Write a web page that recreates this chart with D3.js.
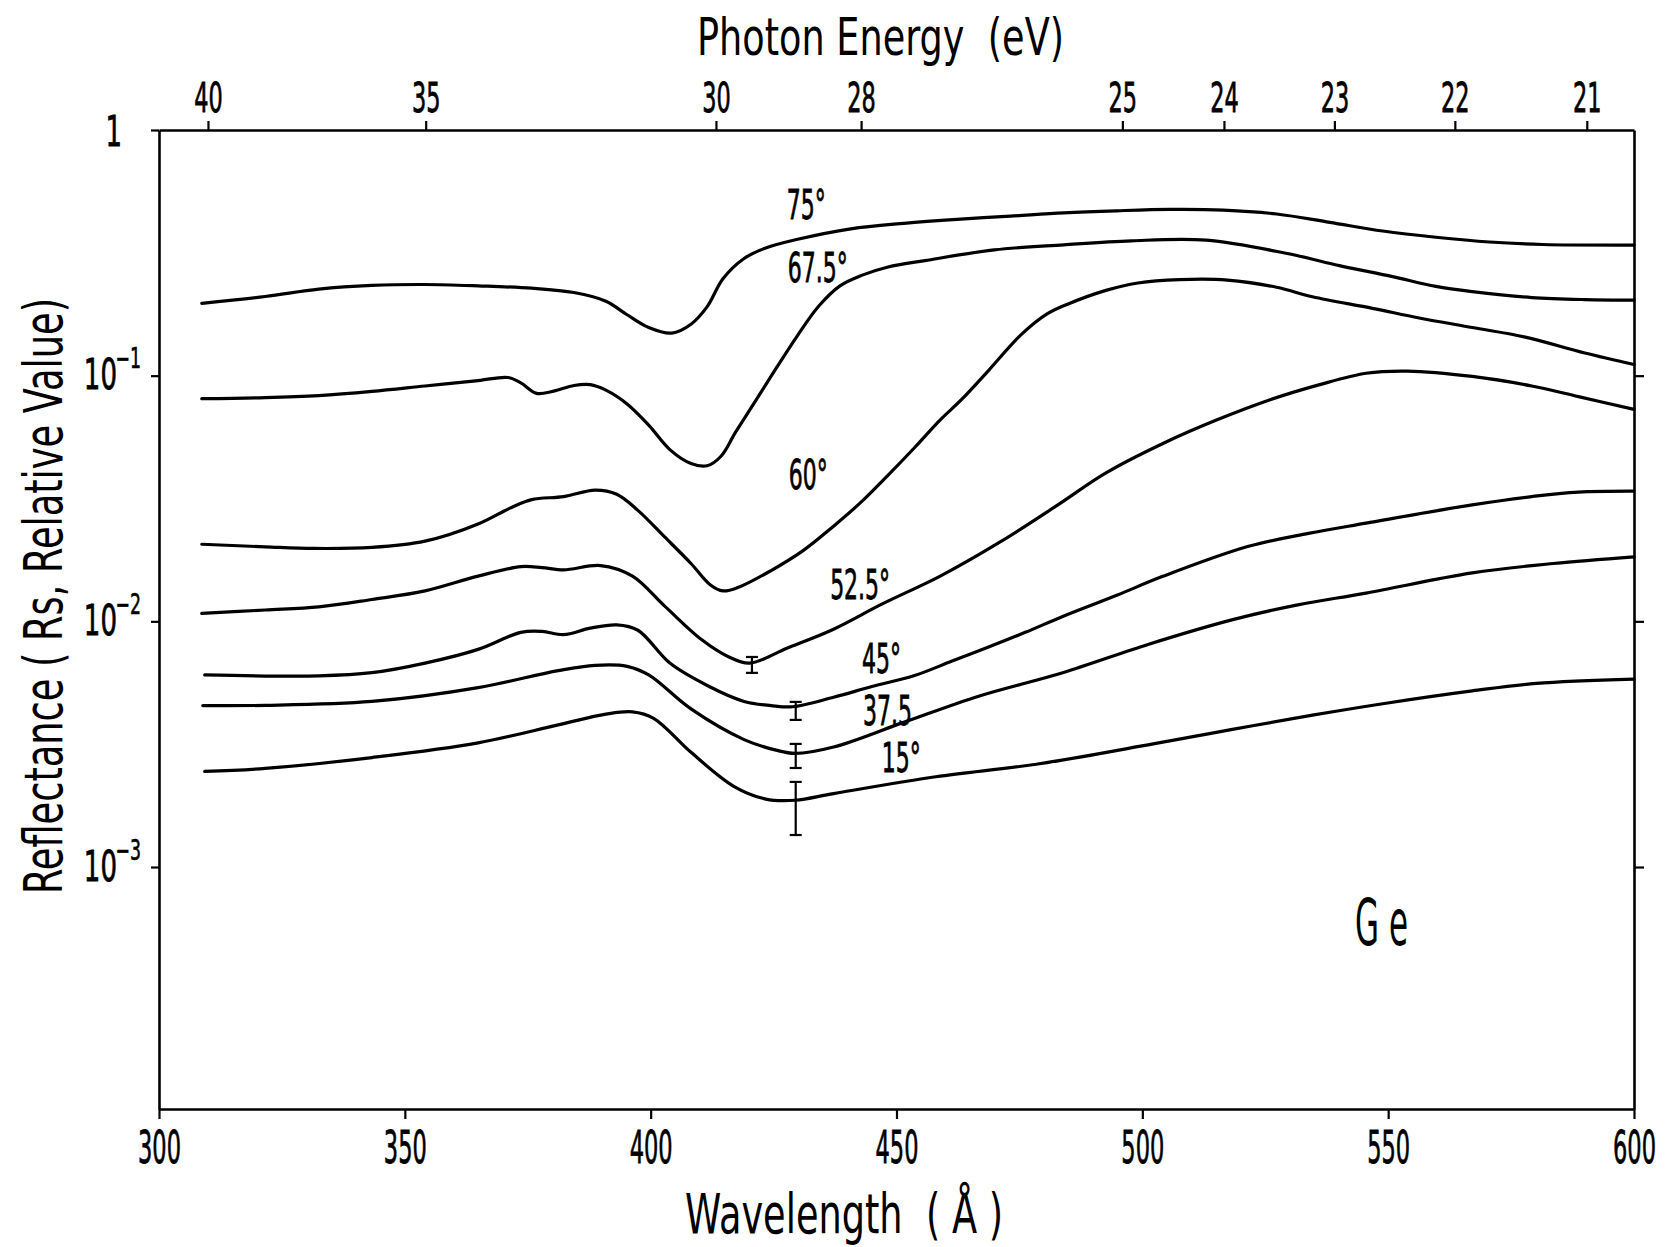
<!DOCTYPE html>
<html><head><meta charset="utf-8">
<script src="https://cdn.jsdelivr.net/npm/d3@7"></script>
<style>
body{margin:0;background:#fff}
text{font-family:"DejaVu Sans",sans-serif;fill:#000}
</style>
</head><body>
<svg id="chart" width="1668" height="1247"></svg>
<script>
// ---------- data (wavelength in Å, reflectance Rs) ----------
const angles = ["75°", "67.5°", "60°", "52.5°", "45°", "37.5", "15°"];

const wl75 = [308.7,321.6,332.5,343.3,354.1,364.9,375.8,384.4,390.9,395.2,399.6,404.3,408.2,411.5,414.7,419.0,423.4,429.9,440.7,451.5,462.3,473.2,484.0,494.8,505.6,516.5,527.3,538.1,548.9,559.7,570.6,581.4,600];
const r75  = [0.197,0.210,0.225,0.233,0.235,0.232,0.227,0.218,0.201,0.177,0.157,0.149,0.162,0.191,0.248,0.300,0.331,0.359,0.396,0.417,0.433,0.446,0.460,0.469,0.475,0.472,0.455,0.421,0.388,0.366,0.350,0.342,0.340];

const wl675 = [308.7,321.6,332.5,343.3,354.1,364.9,371.0,373.6,376.8,380.1,384.4,387.7,390.9,395.2,399.6,403.9,408.2,411.5,414.3,417.3,421.2,425.5,429.9,434.2,438.5,442.9,448.3,455.8,469.9,484.0,497.8,513.0,529.2,540.3,550.9,559.7,567.1,579.2,590.0,600];
const r675  = [0.0806,0.0814,0.0830,0.0863,0.0908,0.0955,0.0983,0.0935,0.0847,0.0863,0.0912,0.0919,0.0873,0.0767,0.0629,0.0500,0.0439,0.0430,0.0470,0.0590,0.0782,0.1070,0.146,0.192,0.232,0.256,0.277,0.294,0.325,0.341,0.354,0.356,0.315,0.280,0.253,0.231,0.220,0.208,0.204,0.203];

const wl60 = [308.7,321.6,331.4,343.3,354.1,364.9,371.4,375.8,382.3,388.7,393.1,397.4,402.8,408.2,412.1,414.7,418.0,424.5,431.0,437.2,442.9,448.1,453.7,458.9,463.2,468.8,475.3,480.7,484.8,492.6,499.1,507.6,517.3,527.3,534.6,546.8,556.3,567.1,577.9,590.0,600];
const r60  = [0.0206,0.0201,0.0198,0.0200,0.0212,0.0249,0.0289,0.0313,0.0322,0.0342,0.0329,0.0283,0.0221,0.0172,0.0141,0.0133,0.0138,0.0161,0.0194,0.0244,0.0307,0.0390,0.0510,0.0661,0.0798,0.1054,0.1465,0.1787,0.1954,0.2224,0.2384,0.2460,0.2450,0.229,0.2095,0.188,0.1717,0.157,0.1435,0.1236,0.111];

const wl525 = [308.7,321.6,332.5,343.3,354.1,364.9,373.6,377.9,382.3,389.8,396.3,402.8,410.4,415.8,420.1,427.7,437.2,447.2,458.9,471.0,482.5,492.6,504.3,515.2,526.0,535.9,545.5,553.9,567.1,579.2,588.7,600];
const r525  = [0.01078,0.01112,0.01145,0.01227,0.0133,0.01528,0.0167,0.01655,0.0162,0.01687,0.01528,0.01156,0.00841,0.00718,0.00676,0.00777,0.00929,0.0118,0.01528,0.0210,0.0295,0.0402,0.0531,0.0661,0.0798,0.0917,0.1023,0.1044,0.0993,0.0908,0.0822,0.0729];

const wl45 = [309.3,332.5,343.3,354.1,364.9,373.6,377.9,382.3,387.7,393.1,397.4,403.9,411.5,419.0,424.5,428.8,437.2,445.0,453.5,461.3,468.6,476.2,483.8,494.8,504.3,521.6,533.8,545.5,567.1,579.2,588.7,600];
const r45  = [0.00605,0.0060,0.00618,0.00676,0.00769,0.00902,0.0091,0.00883,0.00938,0.00967,0.0092,0.00676,0.00548,0.00472,0.00454,0.00449,0.00491,0.00543,0.0060,0.00689,0.00784,0.00902,0.01047,0.01277,0.01528,0.0202,0.0228,0.0251,0.0298,0.0322,0.0336,0.0339];

const wl375 = [308.9,321.6,343.3,364.9,381.2,388.7,395.2,399.6,408.2,419.0,425.5,429.4,437.2,451.3,466.7,483.8,501.3,518.4,531.6,545.5,567.1,583.6,600];
const r375  = [0.00454,0.00455,0.00472,0.00537,0.0063,0.00662,0.00656,0.00605,0.0044,0.0033,0.00299,0.0029,0.00308,0.00387,0.00496,0.00618,0.00807,0.01016,0.01167,0.01303,0.01575,0.0172,0.0183];

const wl15 = [309.3,321.6,343.3,364.9,381.2,390.9,396.3,400.6,408.2,416.9,423.4,429.4,437.2,458.0,478.4,502.2,518.6,534.6,548.9,567.1,580.1,600];
const r15  = [0.00245,0.00252,0.00279,0.0032,0.00379,0.00419,0.00428,0.00403,0.00293,0.00213,0.00189,0.00187,0.00199,0.00233,0.00262,0.00317,0.00364,0.00415,0.00462,0.00521,0.00559,0.00582];

// error bars
const errWl = [420.6, 429.5, 429.5, 429.5];
const errLo = [0.00617, 0.00397, 0.00253, 0.00135];
const errHi = [0.00716, 0.00470, 0.00317, 0.00222];

// curve label anchors (data coordinates: wavelength, reflectance at text baseline-left)
const labelWl = [427.7, 427.9, 428.1, 436.5, 443.0, 443.2, 447.0];
const labelR  = [0.434, 0.241, 0.0346, 0.01233, 0.00616, 0.00379, 0.00244];

// ticks
const wlTicks = [300, 350, 400, 450, 500, 550, 600];
const eTicks = [40, 35, 30, 28, 25, 24, 23, 22, 21];
const rTicks = [1, 0.1, 0.01, 0.001];
const rTickExp = ["", "-1", "-2", "-3"];

// ---------- drawing ----------
const svg = d3.select("#chart");
const L = 159, R = 1634, T = 130, B = 1109;
const x = d3.scaleLinear().domain([300, 600]).range([L, R]);
const yMin = Math.pow(10, -3.985);
const y = d3.scaleLog().domain([yMin, 1]).range([B, T]);
const hc = 12398.4; // eV·Å

const series = [[wl75,r75],[wl675,r675],[wl60,r60],[wl525,r525],[wl45,r45],[wl375,r375],[wl15,r15]];

function styleAxis(g){
  g.attr("font-family", null).attr("font-size", null);
  g.selectAll("path.domain").attr("stroke", "#000").attr("stroke-width", 2.6);
  g.selectAll(".tick line").attr("stroke", "#000").attr("stroke-width", 2.2);
}

// bottom axis
const gB = svg.append("g").attr("transform", `translate(0,${B})`)
  .call(d3.axisBottom(x).tickValues(wlTicks).tickSize(10).tickSizeOuter(0).tickFormat(d3.format("d")));
styleAxis(gB);
gB.selectAll(".tick text").attr("y", 54).attr("dy", null).attr("font-size", 45)
  .attr("stroke", "#000").attr("stroke-width", 0.8)
  .attr("transform", "scale(0.5,1)");

// top axis (photon energy)
const gT = svg.append("g").attr("transform", `translate(0,${T})`)
  .call(d3.axisTop(x).tickValues(eTicks.map(e => hc / e)).tickSize(9).tickSizeOuter(0)
    .tickFormat((d, i) => String(eTicks[i])));
styleAxis(gT);
gT.selectAll(".tick text").attr("y", -18).attr("dy", null).attr("font-size", 40)
  .attr("stroke", "#000").attr("stroke-width", 0.8)
  .attr("transform", "scale(0.56,1)");

// left axis
const gL = svg.append("g").attr("transform", `translate(${L},0)`)
  .call(d3.axisLeft(y).tickValues(rTicks).tickSize(8).tickSizeOuter(0).tickFormat(""));
styleAxis(gL);
gL.selectAll(".tick").each(function(d, i){
  const t = d3.select(this);
  t.selectAll("text").remove();
  if (i === 0) {
    t.append("text").attr("text-anchor", "end").attr("font-size", 42)
      .attr("stroke", "#000").attr("stroke-width", 0.8)
      .attr("transform", "translate(-37,15) scale(0.62,1)").text("1");
  } else {
    t.append("text").attr("text-anchor", "end").attr("font-size", 42)
      .attr("stroke", "#000").attr("stroke-width", 0.8)
      .attr("transform", "translate(-42,13) scale(0.62,1)").text("10");
    t.append("text").attr("text-anchor", "end").attr("font-size", 28)
      .attr("stroke", "#000").attr("stroke-width", 0.6)
      .attr("transform", "translate(-18,-8) scale(0.62,1)").text(rTickExp[i].replace("-", "\u2212"));
  }
});

// right axis
const gR = svg.append("g").attr("transform", `translate(${R},0)`)
  .call(d3.axisRight(y).tickValues(rTicks.slice(1)).tickSize(10).tickSizeOuter(0).tickFormat(""));
styleAxis(gR);

// curves
const line = d3.line().x(d => x(d[0])).y(d => y(d[1])).curve(d3.curveCatmullRom.alpha(0.5));
svg.append("g").selectAll("path").data(series).join("path")
  .attr("d", s => line(s[0].map((w, i) => [w, s[1][i]])))
  .attr("fill", "none").attr("stroke", "#000").attr("stroke-width", 3.2)
  .attr("stroke-linejoin", "round").attr("stroke-linecap", "round");

// error bars
const eb = svg.append("g").attr("stroke", "#000").attr("stroke-width", 2.2);
errWl.forEach((w, i) => {
  const cx = x(w);
  eb.append("line").attr("x1", cx).attr("x2", cx).attr("y1", y(errLo[i])).attr("y2", y(errHi[i]));
  eb.append("line").attr("x1", cx - 6).attr("x2", cx + 6).attr("y1", y(errLo[i])).attr("y2", y(errLo[i]));
  eb.append("line").attr("x1", cx - 6).attr("x2", cx + 6).attr("y1", y(errHi[i])).attr("y2", y(errHi[i]));
});

// curve labels
svg.append("g").selectAll("text").data(angles).join("text")
  .attr("font-size", 40).attr("stroke", "#000").attr("stroke-width", 0.8)
  .attr("transform", (d, i) => `translate(${x(labelWl[i])},${y(labelR[i])}) scale(0.55,1)`)
  .text(d => d);

// titles
svg.append("text").attr("x", 697).attr("y", 55).attr("font-size", 52)
  .attr("textLength", 367).attr("lengthAdjust", "spacingAndGlyphs")
  .style("white-space", "pre").text("Photon Energy  (eV)");
svg.append("text").attr("x", 685).attr("y", 1233).attr("font-size", 55)
  .attr("textLength", 318).attr("lengthAdjust", "spacingAndGlyphs")
  .style("white-space", "pre").text("Wavelength  ( Å )");
svg.append("text").attr("transform", "translate(62,596) rotate(-90)")
  .attr("text-anchor", "middle").attr("font-size", 53)
  .attr("textLength", 596).attr("lengthAdjust", "spacingAndGlyphs")
  .text("Reflectance ( Rs, Relative Value)");
svg.append("text").attr("x", 1355).attr("y", 945).attr("font-size", 64)
  .attr("textLength", 53).attr("lengthAdjust", "spacingAndGlyphs")
  .style("white-space", "pre").text("G e");
</script>
</body></html>
